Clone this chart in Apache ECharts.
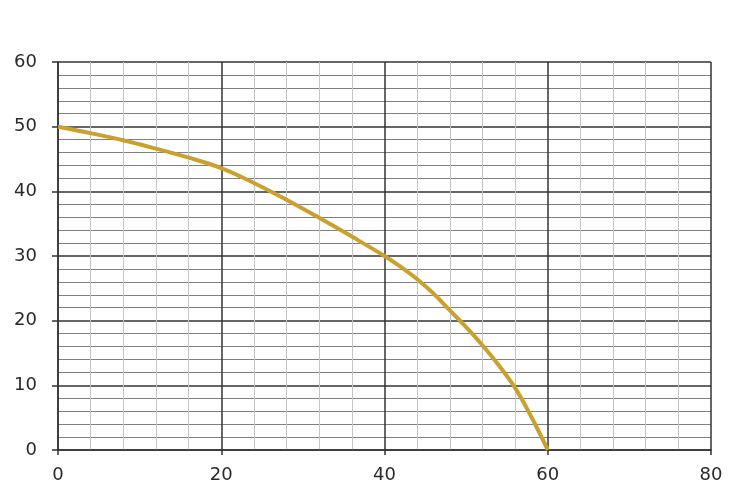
<!DOCTYPE html>
<html>
<head>
<meta charset="utf-8">
<script src="https://cdn.jsdelivr.net/npm/echarts@6/dist/echarts.min.js"></script>
<style>
html,body{margin:0;padding:0;background:#fff;}
#chart{width:751px;height:493px;}
</style>
</head>
<body>
<div id="chart"></div>
<script>
const flowValues = [0, 4, 8, 12, 16, 20, 24, 28, 32, 36, 40, 42, 44, 46, 48, 50, 52, 54, 56, 58, 60];
const headValues = [50, 49.0, 47.9, 46.6, 45.2, 43.6, 41.3, 38.7, 35.9, 33.0, 30, 28.3, 26.4, 24.2, 21.6, 19.0, 16.2, 13.1, 9.6, 5.1, 0];
const xTicks = [0, 20, 40, 60, 80];
const yTicks = [0, 10, 20, 30, 40, 50, 60];

const chart = echarts.init(document.getElementById('chart'));
const labelFont = { fontFamily: '"DejaVu Sans", sans-serif', fontSize: 18, color: '#2a2a2a' };
chart.setOption({
  animation: false,
  backgroundColor: '#fff',
  grid: { left: 58, right: 40, top: 62, bottom: 43, containLabel: false },
  xAxis: {
    type: 'value',
    min: xTicks[0], max: xTicks[xTicks.length - 1], interval: 20,
    axisLine: { show: true, onZero: false, lineStyle: { color: '#333', width: 1.5 } },
    axisTick: { show: true, length: 5, lineStyle: { color: '#333', width: 1.5 } },
    axisLabel: Object.assign({ margin: 16 }, labelFont),
    splitLine: { show: true, lineStyle: { color: '#333', width: 1.5 } },
    minorTick: { show: false, splitNumber: 5 },
    minorSplitLine: { show: true, lineStyle: { color: '#c4c4c4', width: 1 } }
  },
  yAxis: {
    type: 'value',
    min: yTicks[0], max: yTicks[yTicks.length - 1], interval: 10,
    axisLine: { show: true, onZero: false, lineStyle: { color: '#333', width: 1.5 } },
    axisTick: { show: true, length: 6, lineStyle: { color: '#333', width: 1.5 } },
    axisLabel: Object.assign({ margin: 21 }, labelFont),
    splitLine: { show: true, lineStyle: { color: '#333', width: 1.5 } },
    minorTick: { show: false, splitNumber: 5 },
    minorSplitLine: { show: true, lineStyle: { color: '#808080', width: 1.2 } }
  },
  series: [{
    type: 'line',
    data: flowValues.map((x, i) => [x, headValues[i]]),
    smooth: 0.4,
    showSymbol: false,
    lineStyle: { color: '#C9A12E', width: 4 },
    z: 5
  }]
});
</script>
</body>
</html>
